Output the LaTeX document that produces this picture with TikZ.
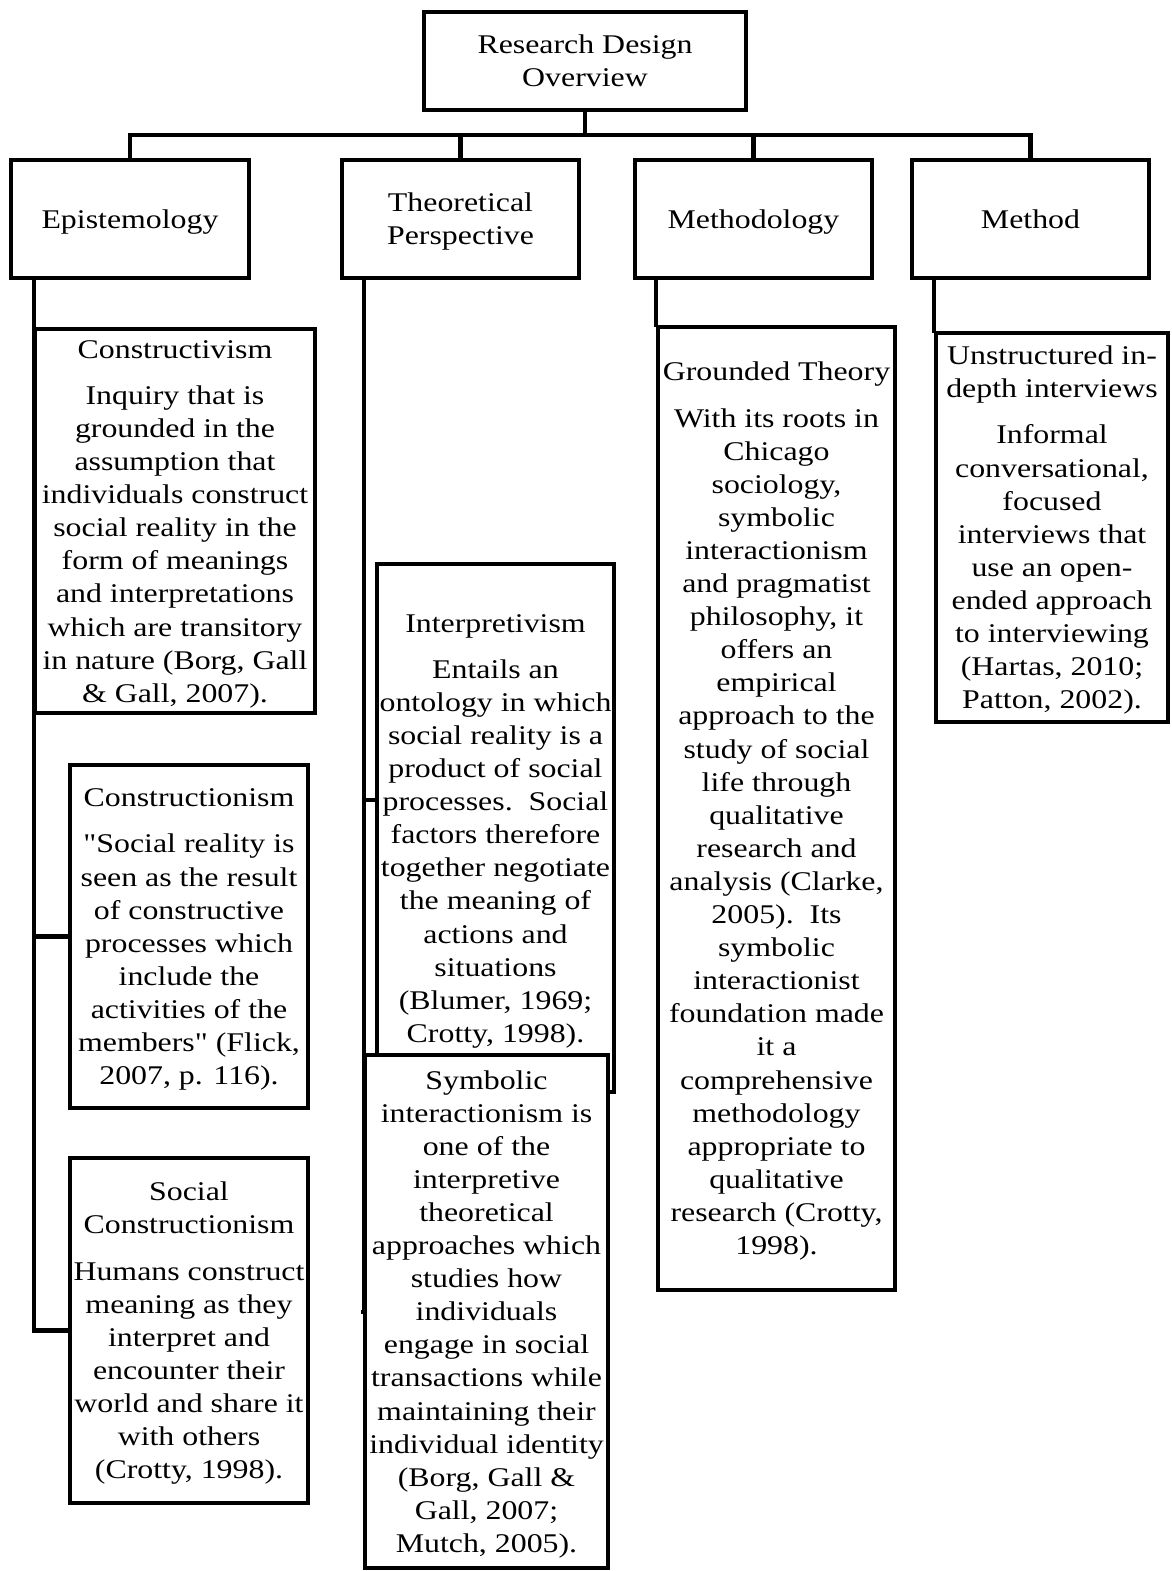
\documentclass[tikz,border=0pt]{standalone}
\usepackage{fontspec}
\setmainfont{Liberation Serif}[FakeStretch=1.18, Ligatures=TeXOff]
\usetikzlibrary{backgrounds}
% line strut: fixed ascent and descent for the first and last line of a box
\newcommand\ls{\rule[-7pt]{0pt}{32.4pt}}
\begin{document}
\begin{tikzpicture}[x=1pt,y=-1pt,
  lw/.style={line width=4.5pt},
  card/.style={draw, lw, fill=white, align=center, inner sep=0pt,
    font=\fontsize{27}{33.1}\selectfont},
  link/.style={draw, lw, line join=miter, line cap=rect}]
\useasboundingbox (0,0) rectangle (1172,1571);

% top of the hierarchy
\node[card, minimum width=322, minimum height=98] (top) at (585,61)
  {\ls Research Design\\Overview\ls};

% the four levels
\node[card, minimum width=238, minimum height=118] (epi) at (130,219) {\ls Epistemology\ls};
\node[card, minimum width=237, minimum height=118] (theo) at (460.5,219) {\ls Theoretical\\Perspective\ls};
\node[card, minimum width=237, minimum height=118] (meth) at (753.5,219) {\ls Methodology\ls};
\node[card, minimum width=237, minimum height=118] (method) at (1030.5,219) {\ls Method\ls};

% epistemology column
\node[card, minimum width=280, minimum height=384] (cvism) at (175,521)
  {\ls Constructivism\\[13pt]
   Inquiry that is\\grounded in the\\assumption that\\individuals construct\\social reality in the\\form of meanings\\and interpretations\\which are transitory\\in nature (Borg, Gall\\\& Gall, 2007).\ls};
\node[card, minimum width=238, minimum height=343] (cnism) at (189,936.5)
  {\ls Constructionism\\[13pt]
   "Social reality is\\seen as the result\\of constructive\\processes which\\include the\\activities of the\\members" (Flick,\\2007, p. 116).\ls};
\node[card, minimum width=238, minimum height=345] (social) at (189,1330.5)
  {\ls Social\\Constructionism\\[13pt]
   Humans construct\\meaning as they\\interpret and\\encounter their\\world and share it\\with others\\(Crotty, 1998).\ls};

% theoretical perspective column
\node[card, minimum width=237, minimum height=528] (interp) at (495.5,828)
  {\ls Interpretivism\\[13pt]
   Entails an\\ontology in which\\social reality is a\\product of social\\processes.\ \ Social\\factors therefore\\together negotiate\\the meaning of\\actions and\\situations\\(Blumer, 1969;\\Crotty, 1998).\ls};
\node[card, minimum width=243, minimum height=513] (symb) at (486.5,1311.5)
  {\ls Symbolic\\interactionism is\\one of the\\interpretive\\theoretical\\approaches which\\studies how\\individuals\\engage in social\\transactions while\\maintaining their\\individual identity\\(Borg, Gall \&\\Gall, 2007;\\Mutch, 2005).\ls};

% methodology column
\node[card, minimum width=237, minimum height=963] (gt) at (776.5,808.5)
  {\ls Grounded Theory\\[13pt]
   With its roots in\\Chicago\\sociology,\\symbolic\\interactionism\\and pragmatist\\philosophy, it\\offers an\\empirical\\approach to the\\study of social\\life through\\qualitative\\research and\\analysis (Clarke,\\2005).\ \ Its\\symbolic\\interactionist\\foundation made\\it a\\comprehensive\\methodology\\appropriate to\\qualitative\\research (Crotty,\\1998).\ls};

% method column
\node[card, minimum width=232, minimum height=389] (unstr) at (1052,527.5)
  {\ls Unstructured in-\\depth interviews\\[13pt]
   Informal\\conversational,\\focused\\interviews that\\use an open-\\ended approach\\to interviewing\\(Hartas, 2010;\\Patton, 2002).\ls};

% connectors
\coordinate (bar) at (585,135);
\coordinate (espine) at (34,1330.5);
\coordinate (tspine) at (364,1312);
\begin{scope}[on background layer]
  \draw[link] (top.south) -- (bar);
  \draw[link] (epi.north) |- (method.north |- bar) -- (method.north);
  \draw[link] (theo.north) -- (theo.north |- bar);
  \draw[link] (meth.north) -- (meth.north |- bar);
  % epistemology spine
  \draw[link] (epi.south -| espine) -- (espine) -- (social.west);
  \draw[link] (cnism.west -| espine) -- (cnism.west);
  % theoretical perspective spine
  \draw[link] (theo.south -| tspine) -- (tspine) -- (symb.west |- tspine);
  \draw[link] ([yshift=28pt]interp.west -| tspine) -- ([yshift=28pt]interp.west);
  % methodology and method drops
  \draw[link] (gt.north west |- meth.south) -- (gt.north west);
  \draw[link] (unstr.north west |- method.south) -- (unstr.north west);
\end{scope}
\end{tikzpicture}
\end{document}
